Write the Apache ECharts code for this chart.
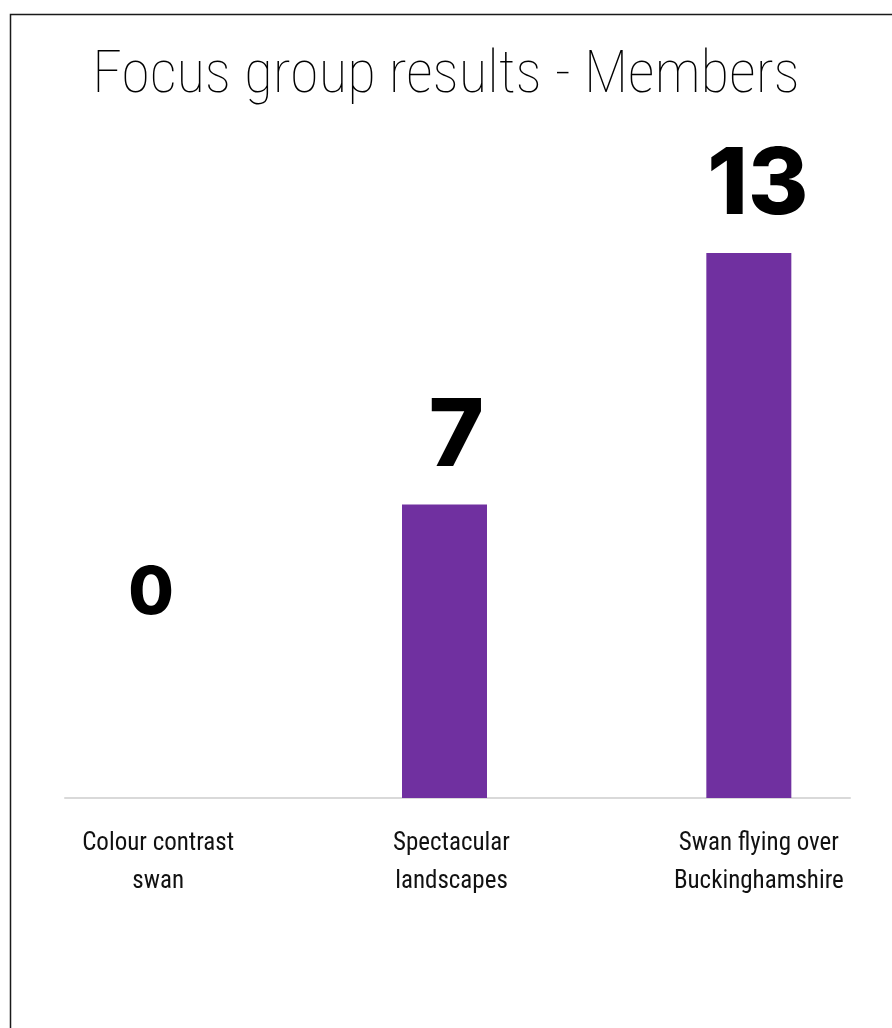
<!DOCTYPE html>
<html>
<head>
<meta charset="utf-8">
<title>Focus group results - Members</title>
<script src="https://cdn.jsdelivr.net/npm/echarts@6/dist/echarts.min.js"></script>
<style>
  html, body { margin: 0; padding: 0; background: #ffffff; }
  #chart { width: 892px; height: 1028px; }
</style>
</head>
<body>
<div id="chart"></div>
<script>
// Focus group votes (members)
const categories = [
  'Colour contrast\nswan',
  'Spectacular\nlandscapes',
  'Swan flying over\nBuckinghamshire'
];
const votes = [0, 7, 13];
const titleText = 'Focus group results - Members';

// Per-bar value label look (size / nudge)
const valueLabelSize = [66, 94, 92];
const valueLabelOffset = [[11, -147], [12, 4], [9, 3]];
// Per-category label nudge to the right (px of left padding)
const categoryLabelPad = [36, 14, 20];

const titleFont = '"Roboto Condensed", Roboto, Lato, sans-serif';
const labelFont = '"Roboto Condensed", "Liberation Sans Narrow", "DejaVu Sans Condensed", sans-serif';
const numberFont = 'Inter, "Open Sans", Roboto, sans-serif';

// Pick a font size so a text spans the intended width
function fitFontSize(text, family, weight, targetWidth, maxSize) {
  const ctx = document.createElement('canvas').getContext('2d');
  ctx.font = weight + ' 100px ' + family;
  const w = ctx.measureText(text).width;
  return Math.min(maxSize, Math.round(100 * targetWidth / w));
}
const titleSize = fitFontSize(titleText, titleFont, 100, 712, 62);
const labelSize = fitFontSize('Colour contrast', labelFont, 400, 152, 26);

const rich = {};
categoryLabelPad.forEach((p, i) => {
  rich['c' + i] = {
    padding: [0, 0, 0, p],
    fontFamily: labelFont,
    fontSize: labelSize,
    lineHeight: 38,
    color: '#111111'
  };
});

const chart = echarts.init(document.getElementById('chart'), null, { renderer: 'canvas' });

const option = {
  backgroundColor: '#ffffff',
  animation: false,
  title: {
    text: titleText,
    left: 'center',
    top: 43,
    textStyle: {
      fontFamily: titleFont,
      fontWeight: 100,
      fontSize: titleSize,
      color: '#000000'
    }
  },
  graphic: [{
    type: 'rect',
    left: 8,
    top: 12,
    shape: { width: 1000, height: 1100 },
    style: { fill: 'none', stroke: '#1a1a1a', lineWidth: 1.5 },
    silent: true
  }],
  grid: [
    { left: -12, right: -9, top: 253, bottom: 230, outerBoundsMode: 'none' },
    { left: 65, right: 42, top: 253, bottom: 230, outerBoundsMode: 'none' }
  ],
  xAxis: [
    {
      type: 'category',
      gridIndex: 0,
      data: categories,
      axisLine: { show: false },
      axisTick: { show: false },
      axisLabel: {
        margin: 27,
        color: '#111111',
        fontFamily: labelFont,
        fontSize: labelSize,
        lineHeight: 38,
        formatter: (value, index) =>
          value.split('\n').map(line => '{c' + index + '|' + line + '}').join('\n'),
        rich: rich
      }
    },
    {
      type: 'category',
      gridIndex: 1,
      data: [''],
      axisLine: { show: true, lineStyle: { color: '#d9d9d9', width: 2 } },
      axisTick: { show: false },
      axisLabel: { show: false }
    }
  ],
  yAxis: [
    { type: 'value', gridIndex: 0, min: 0, max: 13, show: false },
    { type: 'value', gridIndex: 1, min: 0, max: 13, show: false }
  ],
  series: [{
    type: 'bar',
    xAxisIndex: 0,
    yAxisIndex: 0,
    barWidth: 85,
    itemStyle: { color: '#7030a0' },
    data: votes.map((v, i) => ({
      value: v,
      label: {
        fontSize: valueLabelSize[i],
        offset: valueLabelOffset[i]
      }
    })),
    label: {
      show: true,
      position: 'top',
      distance: 24,
      color: '#000000',
      fontFamily: numberFont,
      fontWeight: 800
    }
  }]
};

chart.setOption(option);
</script>
</body>
</html>
